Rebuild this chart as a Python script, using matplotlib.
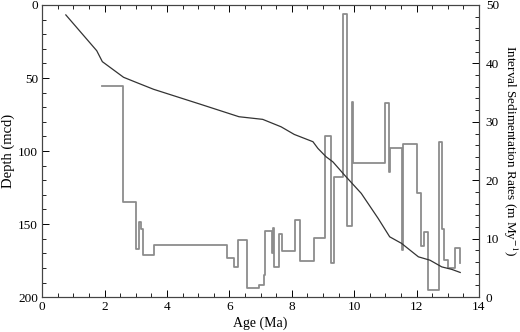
import matplotlib
matplotlib.use("Agg")
import matplotlib.pyplot as plt
from matplotlib.ticker import MultipleLocator

plt.rcParams['font.family'] = ['Liberation Serif', 'DejaVu Serif']
plt.rcParams['mathtext.fontset'] = 'stix'

# age-depth curve
depth_age = [0.76, 1.75, 1.93, 2.61, 3.04, 3.57, 5.08, 6.31, 7.07, 7.66, 8.08,
             8.68, 8.84, 9.10, 9.32, 9.69, 10.23, 10.77, 11.14, 11.52, 12.06,
             12.43, 12.81, 13.13, 13.40]
depth_mcd = [6.8, 31.3, 38.8, 49.5, 53.2, 57.7, 68.0, 76.5, 78.3, 83.4, 88.6,
             93.6, 98.2, 103.9, 107.4, 116.4, 129.0, 146.1, 158.7, 163.2, 172.4,
             174.7, 179.3, 181.0, 183.1]

# interval sedimentation rates (step start ages and rates)
rate_age = [1.93, 2.59, 3.02, 3.10, 3.18, 3.23, 3.57, 5.94, 6.15, 6.29, 6.58,
            6.96, 7.10, 7.14, 7.36, 7.39, 7.44, 7.60, 7.68, 8.12, 8.27, 8.73,
            9.07, 9.27, 9.35, 9.64, 9.77, 9.93, 9.96, 11.00, 11.12, 11.15,
            11.52, 11.56, 12.00, 12.13, 12.24, 12.38, 12.72, 12.82, 12.88,
            13.02, 13.22, 13.38]
rate_val = [36.1, 16.2, 8.2, 12.8, 11.7, 7.2, 9.0, 6.7, 5.2, 9.8, 1.6,
            2.1, 3.8, 11.3, 7.5, 11.8, 5.1, 10.8, 7.9, 13.2, 6.2, 10.2,
            27.6, 5.8, 20.5, 48.5, 12.2, 33.4, 23.0, 33.2, 21.4, 25.6,
            8.1, 26.2, 17.9, 8.7, 11.2, 1.25, 26.6, 11.6, 6.4,
            5.0, 8.4, 5.8]

fig = plt.figure(figsize=(5.2, 3.32), dpi=100)
ax = fig.add_axes([0.081, 0.105, 0.84, 0.880])
ax2 = ax.twinx()

ax2.plot(rate_age, rate_val, drawstyle='steps-post', c='#8c8c8c', lw=1.3)
ax.plot(depth_age, depth_mcd, c='#333333', lw=0.9)
ax.set_zorder(ax2.get_zorder() + 1)
ax.patch.set_visible(False)

ax.set_xlim(0, 14)
ax.set_ylim(200, 0)
ax2.set_ylim(0, 50)

ax.xaxis.set_major_locator(MultipleLocator(2))
ax.xaxis.set_minor_locator(MultipleLocator(0.5))
ax.yaxis.set_major_locator(MultipleLocator(50))
ax.yaxis.set_minor_locator(MultipleLocator(10))
ax2.yaxis.set_major_locator(MultipleLocator(10))
ax2.yaxis.set_minor_locator(MultipleLocator(2))

ax.tick_params(which='both', direction='in', top=True, right=False,
               labelsize=9.5, pad=3)
ax.tick_params(which='major', length=5, width=0.7)
ax.tick_params(which='minor', length=3, width=0.6)
ax2.tick_params(which='both', direction='in', labelsize=9.5, pad=5)
ax2.tick_params(which='major', length=5, width=0.7)
ax2.tick_params(which='minor', length=3, width=0.6)

for a in (ax, ax2):
    for s in a.spines.values():
        s.set_linewidth(0.8)
        s.set_color('#444444')

ax.set_xlabel("Age (Ma)", fontsize=10, labelpad=2)
ax.set_ylabel("Depth (mcd)", fontsize=10.5, labelpad=2)
ax2.set_ylabel("Interval Sedimentation Rates (m My$^{-1}$)", fontsize=9.5,
               rotation=270, labelpad=14)

fig.savefig("out.png", dpi=100)
